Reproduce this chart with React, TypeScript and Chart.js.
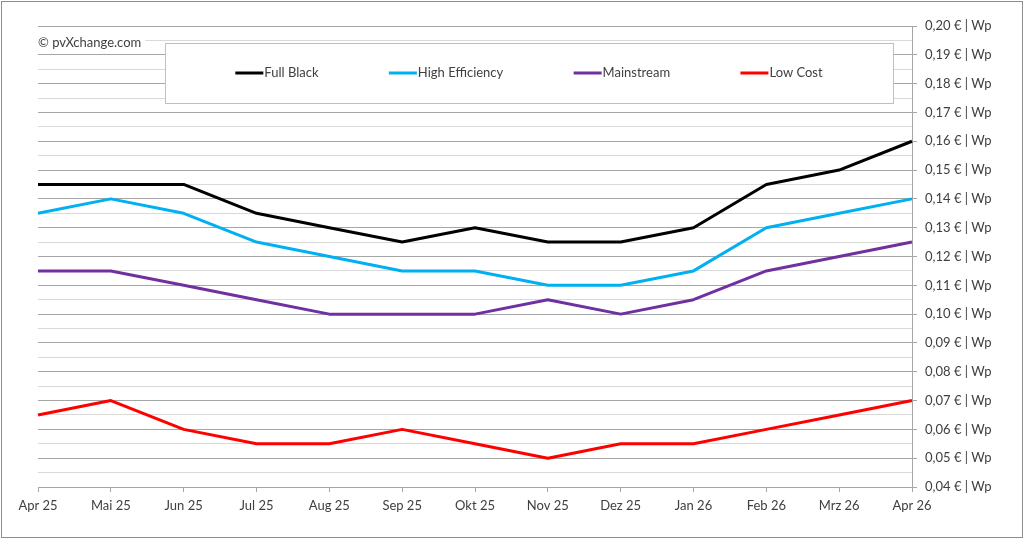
import React, { useEffect, useRef } from "react";
import { Chart, registerables } from "chart.js";

Chart.register(...registerables);

const categories = ["Apr 25", "Mai 25", "Jun 25", "Jul 25", "Aug 25", "Sep 25", "Okt 25", "Nov 25", "Dez 25", "Jan 26", "Feb 26", "Mrz 26", "Apr 26"];
const fullBlack = [0.145, 0.145, 0.145, 0.135, 0.13, 0.125, 0.13, 0.125, 0.125, 0.13, 0.145, 0.15, 0.16];
const highEfficiency = [0.135, 0.14, 0.135, 0.125, 0.12, 0.115, 0.115, 0.11, 0.11, 0.115, 0.13, 0.135, 0.14];
const mainstream = [0.115, 0.115, 0.11, 0.105, 0.1, 0.1, 0.1, 0.105, 0.1, 0.105, 0.115, 0.12, 0.125];
const lowCost = [0.065, 0.07, 0.06, 0.055, 0.055, 0.06, 0.055, 0.05, 0.055, 0.055, 0.06, 0.065, 0.07];
const seriesNames = ["Full Black", "High Efficiency", "Mainstream", "Low Cost"];
const seriesColors = ["#000000", "#00B0F0", "#7030A0", "#FF0000"];
const yMin = 0.04;
const yMax = 0.2;
const yStep = 0.005;
const copyright = "© pvXchange.com";

const FONT = "Lato, 'Open Sans', sans-serif";
const TEXT = "#404040";
const MAJOR = "#A6A6A6";
const MINOR = "#D9D9D9";

const isMajor = (v: number) => Math.round(v * 1000) % 10 === 0;

const decorPlugin = {
  id: "decor",
  afterDraw(chart: any) {
    const ctx = chart.ctx as CanvasRenderingContext2D;
    ctx.save();
    // outer border
    ctx.strokeStyle = "#8C8C8C";
    ctx.lineWidth = 1;
    ctx.strokeRect(1.5, 1.5, chart.width - 3, chart.height - 3);

    // copyright
    ctx.font = `13px ${FONT}`;
    ctx.textBaseline = "middle";
    ctx.textAlign = "left";
    const cx = chart.chartArea.left;
    const cy = 43;
    const cw = ctx.measureText(copyright).width;
    ctx.fillStyle = "#FFFFFF";
    ctx.fillRect(cx - 2, cy - 8, cw + 6, 16);
    ctx.fillStyle = TEXT;
    ctx.fillText(copyright, cx, cy);

    // legend box
    const bx = 165, by = 43, bw = 728, bh = 60;
    ctx.fillStyle = "#FFFFFF";
    ctx.fillRect(bx, by, bw, bh);
    ctx.strokeStyle = "#BFBFBF";
    ctx.strokeRect(bx + 0.5, by + 0.5, bw, bh);

    const lineLen = 28;
    const ds = chart.data.datasets;
    const widths = ds.map((d: any) => lineLen + 1 + ctx.measureText(d.label).width);
    const total = widths.reduce((a: number, b: number) => a + b, 0);
    const gap = (bw - total) / (ds.length + 1);
    let x = bx + gap;
    const ly = by + bh / 2;
    ds.forEach((d: any, i: number) => {
      ctx.strokeStyle = d.borderColor;
      ctx.lineWidth = 3;
      ctx.lineCap = "butt";
      ctx.beginPath();
      ctx.moveTo(x, ly);
      ctx.lineTo(x + lineLen, ly);
      ctx.stroke();
      ctx.fillStyle = TEXT;
      ctx.fillText(d.label, x + lineLen + 1, ly);
      x += widths[i] + gap;
    });
    ctx.restore();
  },
};

export default function App() {
  const ref = useRef<HTMLCanvasElement>(null);

  useEffect(() => {
    if (!ref.current) return;
    const values = [fullBlack, highEfficiency, mainstream, lowCost];
    const chart = new Chart(ref.current, {
      type: "line",
      data: {
        labels: categories,
        datasets: values.map((v, i) => ({
          label: seriesNames[i],
          data: v,
          borderColor: seriesColors[i],
          backgroundColor: seriesColors[i],
          borderWidth: 3,
          pointRadius: 0,
          tension: 0,
          borderJoinStyle: "round" as const,
          fill: false,
        })),
      },
      options: {
        animation: false,
        responsive: false,
        layout: { padding: { left: 38, top: 26, right: 0, bottom: 0 } },
        plugins: {
          legend: { display: false },
          tooltip: { enabled: false },
        },
        scales: {
          x: {
            type: "category",
            offset: false,
            grid: {
              drawOnChartArea: false,
              drawTicks: true,
              tickLength: 5,
              color: MAJOR,
              offset: false,
            },
            border: { display: true, color: MAJOR },
            ticks: {
              autoSkip: false,
              maxRotation: 0,
              padding: 6,
              color: TEXT,
              font: { family: FONT, size: 13 },
            },
            afterFit(scale: any) {
              scale.height = 52;
            },
          },
          y: {
            position: "right",
            min: yMin,
            max: yMax,
            grid: {
              color: (c: any) => (isMajor(c.tick.value) ? MAJOR : MINOR),
              tickColor: (c: any) => (isMajor(c.tick.value) ? MAJOR : "rgba(0,0,0,0)"),
              tickLength: 5,
              lineWidth: 1,
            },
            border: { display: true, color: MAJOR },
            ticks: {
              stepSize: yStep,
              autoSkip: false,
              padding: 8,
              color: TEXT,
              font: { family: FONT, size: 13 },
              callback: (v: any) => {
                const n = Number(v);
                return isMajor(n) ? n.toFixed(2).replace(".", ",") + " € | Wp" : "";
              },
            },
            afterFit(scale: any) {
              scale.width = 112;
            },
          },
        },
      },
      plugins: [decorPlugin],
    });
    return () => chart.destroy();
  }, []);

  return (
    <div style={{ position: "absolute", left: 0, top: 0, width: 1024, height: 539, background: "#fff" }}>
      <canvas ref={ref} width={1024} height={539} />
    </div>
  );
}
